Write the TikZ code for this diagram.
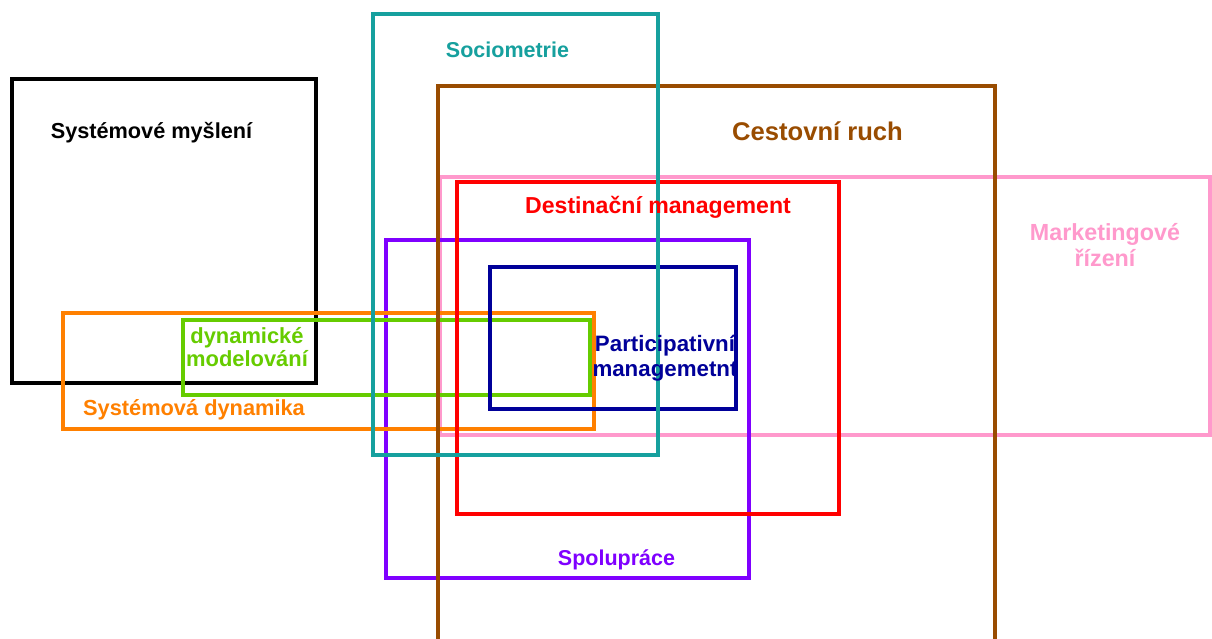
\documentclass[tikz,border=0pt]{standalone}
\usepackage{fontspec}
\setmainfont{Liberation Sans}

\definecolor{cBlack}{RGB}{0,0,0}
\definecolor{cTeal}{RGB}{22,160,158}
\definecolor{cBrown}{RGB}{153,76,0}
\definecolor{cPink}{RGB}{255,153,204}
\definecolor{cRed}{RGB}{255,0,0}
\definecolor{cPurple}{RGB}{127,0,255}
\definecolor{cNavy}{RGB}{0,0,153}
\definecolor{cOrange}{RGB}{255,128,0}
\definecolor{cGreen}{RGB}{102,204,0}

\begin{document}
\begin{tikzpicture}[x=1pt,y=-1pt,
  box/.style={line width=4pt, line join=miter},
  lbl/.style={inner sep=0pt, anchor=base, align=center}]
\clip (0,0) rectangle (1212,638);
\fill[white] (0,0) rectangle (1212,638);

% overlapping topic areas
\draw[box, cPink]   (440,177) rectangle (1210,435);
\draw[box, cPurple] (386,240) rectangle (749,578);
\draw[box, cBlack]  (12,79) rectangle (316,383);
\draw[box, cOrange] (63,313) rectangle (594,429);
\draw[box, cGreen]  (183,320) rectangle (590,395);
\draw[box, cBrown]  (438,650) -- (438,86) -- (995,86) -- (995,650);
\draw[box, cRed]    (457,182) rectangle (839,514);
\draw[box, cNavy]   (490,267) rectangle (736,409);
\draw[box, cTeal]   (373,14) rectangle (658,455);

% area labels (two-line labels are placed by their last baseline)
\node[lbl, cBlack, font=\bfseries\fontsize{21.7}{26}\selectfont] (sysmys) at (151.5,138) {Systémové myšlení};
\node[lbl, cTeal, font=\bfseries\fontsize{21.5}{26}\selectfont] (socio) at (507.5,57) {Sociometrie};
\node[lbl, cBrown, font=\bfseries\fontsize{25.6}{30}\selectfont] (cr) at (817.5,140) {Cestovní ruch};
\node[lbl, cRed, font=\bfseries\fontsize{23.1}{27}\selectfont] (dm) at (658,213) {Destinační management};
\node[lbl, cPink, font=\bfseries\fontsize{23.3}{26.7}\selectfont] (mr) at (1105,266.7) {Marketingové\\řízení};
\node[lbl, cNavy, font=\bfseries\fontsize{22.3}{24.3}\selectfont] (pm) at (665,376) {Participativní\\managemetnt};
\node[lbl, cGreen, font=\bfseries\fontsize{21.9}{23.4}\selectfont] (dmod) at (247,366.7) {dynamické\\modelování};
\node[lbl, cOrange, font=\bfseries\fontsize{21.8}{26}\selectfont] (sd) at (194,415) {Systémová dynamika};
\node[lbl, cPurple, font=\bfseries\fontsize{21.5}{26}\selectfont] (sp) at (616.5,565) {Spolupráce};
\end{tikzpicture}
\end{document}
